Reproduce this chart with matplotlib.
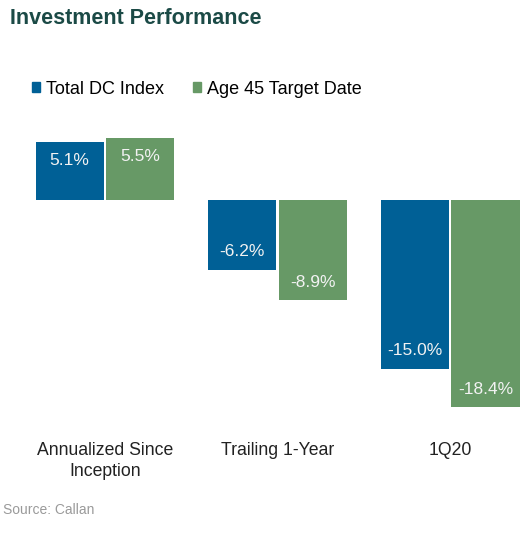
import matplotlib.pyplot as plt
import matplotlib.patches as mpatches
import numpy as np

plt.rcParams['font.family'] = ['Liberation Sans', 'DejaVu Sans']

categories = ["Annualized Since\nInception", "Trailing 1-Year", "1Q20"]
series_names = ["Total DC Index", "Age 45 Target Date"]
dc_index = [5.1, -6.2, -15.0]
target_date = [5.5, -8.9, -18.4]
colors = ["#006096", "#679966"]

fig = plt.figure(figsize=(5.27, 5.33), dpi=100)
ax = fig.add_axes([0.0617, 0.2019, 0.9298, 0.571])

x = np.arange(len(categories))
w = 0.395
off = 0.205
for vals, xo, c in [(dc_index, -off, colors[0]), (target_date, off, colors[1])]:
    bars = ax.bar(x + xo, vals, width=w, color=c)
    for b, v in zip(bars, vals):
        yoff = -13 if v > 0 else 13
        ax.annotate(f"{v:.1f}%", (b.get_x() + b.get_width() / 2, v),
                    xytext=(0, yoff), textcoords="offset points",
                    ha='center', va='center', fontsize=12.5, color='#f2f2f2')

ax.set_xlim(-0.42, 2.42)
ax.set_ylim(-20, 7)
ax.set_xticks(x)
ax.set_xticklabels(categories, fontsize=12.7, color='#222222', linespacing=1.3)
ax.tick_params(axis='x', length=0, pad=12)
ax.set_yticks([])
for s in ax.spines.values():
    s.set_visible(False)

handles = [mpatches.Patch(color=c, label=n) for c, n in zip(colors, series_names)]
fig.legend(handles=handles, loc='center left', bbox_to_anchor=(0.06, 0.833),
           ncol=2, frameon=False, fontsize=13, handlelength=0.45,
           handleheight=0.45, handletextpad=0.35, columnspacing=1.6,
           borderaxespad=0, borderpad=0)

fig.text(0.019, 0.966, "Investment Performance", fontsize=15.5,
         fontweight='bold', color='#1b4a46', ha='left', va='center')
fig.text(0.006, 0.043, "Source: Callan", fontsize=10, color='#9a9a9a',
         ha='left', va='center')

plt.savefig("out.png", dpi=100)
